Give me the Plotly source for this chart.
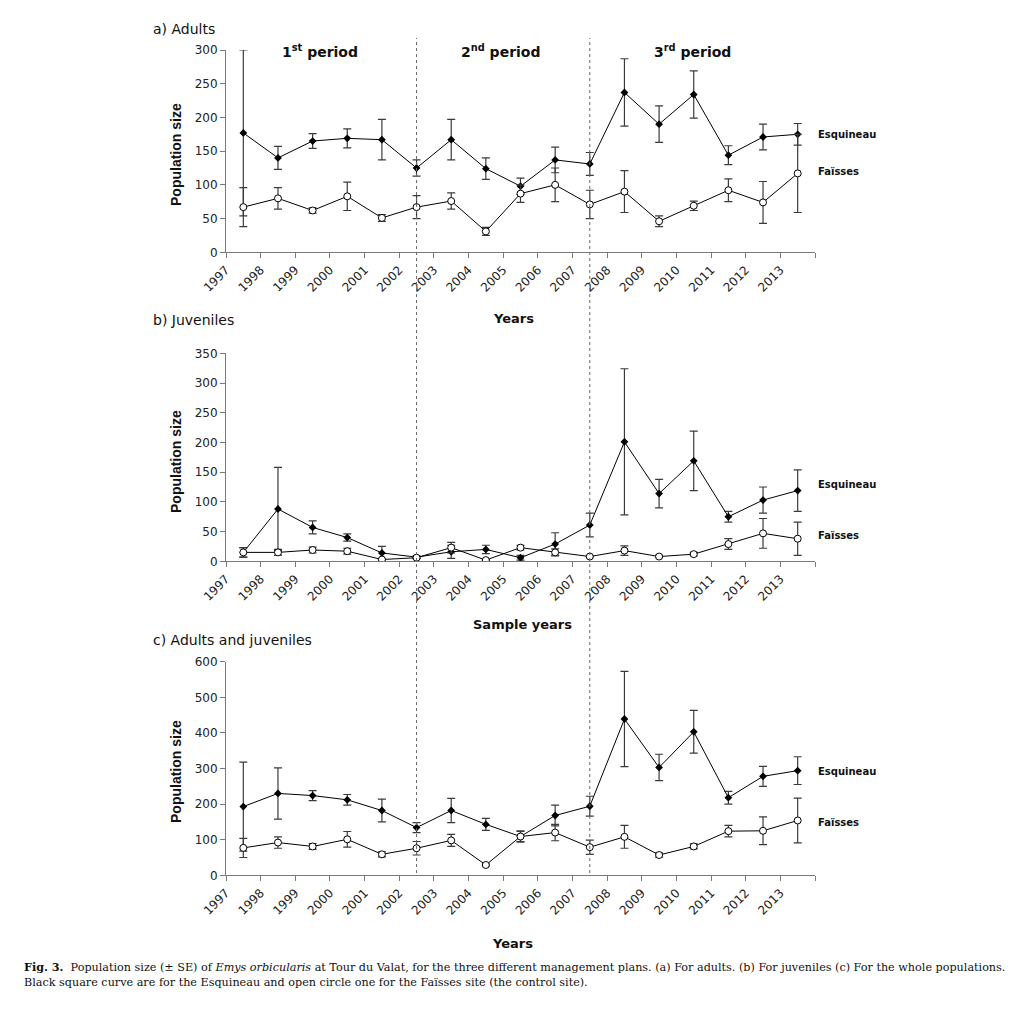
import plotly.graph_objects as go

# ---------------- data ----------------
years = [1997, 1998, 1999, 2000, 2001, 2002, 2003, 2004, 2005,
         2006, 2007, 2008, 2009, 2010, 2011, 2012, 2013]
year_labels = [str(y) for y in years]
period_bounds = [2002, 2007]

adults_esq = [177, 140, 165, 169, 167, 125, 167, 124, 98, 137, 131, 237, 190, 234, 144, 171, 175]
adults_esq_se = [123, 17, 11, 14, 30, 12, 30, 16, 12, 19, 17, 50, 27, 35, 14, 19, 16]
adults_fai = [67, 80, 62, 83, 51, 67, 76, 31, 87, 100, 71, 90, 46, 69, 92, 74, 117]
adults_fai_se = [29, 16, 4, 21, 5, 17, 12, 6, 13, 25, 21, 31, 8, 7, 17, 31, 58]

juv_esq = [15, 88, 57, 40, 14, 7, 16, 20, 6, 29, 61, 201, 114, 169, 75, 103, 119]
juv_esq_se = [8, 70, 11, 6, 11, 2, 11, 7, 4, 19, 20, 123, 24, 50, 9, 22, 35]
juv_fai = [15, 15, 19, 17, 3, 6, 23, 2, 23, 15, 8, 18, 8, 12, 29, 47, 38]
juv_fai_se = [8, 5, 5, 5, 1, 2, 9, 1, 4, 6, 1, 8, 2, 3, 9, 25, 28]

all_esq = [193, 230, 224, 212, 182, 134, 182, 143, 109, 168, 194, 439, 303, 403, 218, 278, 294]
all_esq_se = [125, 72, 14, 15, 32, 14, 34, 17, 16, 29, 28, 134, 37, 60, 18, 28, 39]
all_fai = [77, 92, 81, 101, 59, 76, 98, 29, 109, 120, 79, 108, 57, 81, 124, 125, 154]
all_fai_se = [27, 16, 8, 22, 7, 19, 17, 3, 14, 23, 20, 32, 6, 7, 16, 39, 63]

panels = [
    dict(esq=adults_esq, esq_se=adults_esq_se, fai=adults_fai, fai_se=adults_fai_se,
         ymax=300, dtick=50, top=50.0, bottom=252.3, title="a) Adults", title_y=29,
         xtitle="Years", xtitle_x=513, xtitle_y=318, ytitle_y=155,
         esq_lab_y=134, fai_lab_y=172),
    dict(esq=juv_esq, esq_se=juv_esq_se, fai=juv_fai, fai_se=juv_fai_se,
         ymax=350, dtick=50, top=353.3, bottom=561.3, title="b) Juveniles", title_y=320,
         xtitle="Sample years", xtitle_x=522, xtitle_y=624, ytitle_y=462,
         esq_lab_y=485, fai_lab_y=535),
    dict(esq=all_esq, esq_se=all_esq_se, fai=all_fai, fai_se=all_fai_se,
         ymax=600, dtick=100, top=661.7, bottom=875.3, title="c) Adults and juveniles", title_y=640,
         xtitle="Years", xtitle_x=512, xtitle_y=943, ytitle_y=772,
         esq_lab_y=771, fai_lab_y=822),
]

# ---------------- layout helpers ----------------
W, H = 1036, 1013
X_LEFT, X_RIGHT = 226, 815


def px(xp):
    return xp / W


def py(yp):
    return 1 - yp / H


FONT = "DejaVu Sans, Liberation Sans, Arial, sans-serif"
AXCOL = "#7a7a7a"
ERRCOL = "#3a3a3a"

fig = go.Figure()
annotations = []
shapes = []

# category boundaries carry the tick marks; labels sit at the left boundary of each year
tickvals = [y - 0.5 for y in years]
end_tick = [years[-1] + 0.5]

for i, p in enumerate(panels):
    n = "" if i == 0 else str(i + 1)
    xa, ya = "x" + n, "y" + n

    fig.add_trace(go.Scatter(
        x=years, y=p["esq"], mode="lines+markers", xaxis=xa, yaxis=ya,
        line=dict(color="black", width=1),
        marker=dict(symbol="diamond", size=6, color="black"),
        error_y=dict(type="data", array=p["esq_se"], visible=True,
                     color=ERRCOL, thickness=1.2, width=4),
        showlegend=False, name="Esquineau"))
    fig.add_trace(go.Scatter(
        x=years, y=p["fai"], mode="lines+markers", xaxis=xa, yaxis=ya,
        line=dict(color="black", width=1),
        marker=dict(symbol="circle", size=7, color="white",
                    line=dict(color="black", width=1)),
        error_y=dict(type="data", array=p["fai_se"], visible=True,
                     color=ERRCOL, thickness=1.2, width=4),
        showlegend=False, name="Faïsses"))

    fig.update_layout(**{
        ("xaxis" + n): dict(
            domain=[px(X_LEFT), px(X_RIGHT)], range=[years[0] - 0.5, years[-1] + 0.5],
            anchor=ya, tickmode="array", tickvals=tickvals, ticktext=year_labels,
            tickangle=-45, ticks="outside", ticklen=5, tickcolor=AXCOL,
            minor=dict(tickmode="array", tickvals=end_tick, ticks="outside",
                       ticklen=5, tickcolor=AXCOL, showgrid=False),
            showline=True, linecolor=AXCOL, linewidth=1, automargin=False,
            showgrid=False, zeroline=False, fixedrange=True,
            tickfont=dict(family=FONT, size=12, color="#222")),
        ("yaxis" + n): dict(
            domain=[py(p["bottom"]), py(p["top"])], range=[0, p["ymax"]],
            anchor=xa, dtick=p["dtick"], tick0=0, ticks="outside", ticklen=5,
            tickcolor=AXCOL, showline=True, linecolor=AXCOL, linewidth=1,
            showgrid=False, zeroline=False, automargin=False, fixedrange=True,
            tickfont=dict(family=FONT, size=12, color="#222")),
    })

    annotations += [
        dict(text=p["title"], x=px(151), y=py(p["title_y"]), xref="paper", yref="paper",
             xanchor="left", yanchor="middle", showarrow=False,
             font=dict(family=FONT, size=14, color="#111")),
        dict(text="<b>Population size</b>", x=px(176), y=py(p["ytitle_y"]),
             xref="paper", yref="paper", textangle=-90, xanchor="center", yanchor="middle",
             showarrow=False, font=dict(family="Liberation Sans, Arial, sans-serif", size=14, color="#111")),
        dict(text="<b>" + p["xtitle"] + "</b>", x=px(p["xtitle_x"]), y=py(p["xtitle_y"]),
             xref="paper", yref="paper", xanchor="center", yanchor="middle", showarrow=False,
             font=dict(family=FONT, size=13, color="#111")),
        dict(text="<b>Esquineau</b>", x=px(816), y=py(p["esq_lab_y"]), xref="paper", yref="paper",
             xanchor="left", yanchor="middle", showarrow=False,
             font=dict(family=FONT, size=10, color="#111")),
        dict(text="<b>Faïsses</b>", x=px(816), y=py(p["fai_lab_y"]), xref="paper", yref="paper",
             xanchor="left", yanchor="middle", showarrow=False,
             font=dict(family=FONT, size=10, color="#111")),
    ]

# period separators spanning all three panels
for b in period_bounds:
    shapes.append(dict(type="line", xref="x", yref="paper", x0=b, x1=b,
                       y0=py(873), y1=py(38),
                       line=dict(color="#666", width=1, dash="dot")))

# period labels
for txt, xc in [("1<sup>st</sup> period", 320), ("2<sup>nd</sup> period", 500),
                ("3<sup>rd</sup> period", 692)]:
    annotations.append(dict(text="<b>" + txt + "</b>", x=px(xc), y=py(51), xref="paper",
                            yref="paper", xanchor="center", yanchor="middle", showarrow=False,
                            font=dict(family=FONT, size=14, color="#111")))

# caption
CAPFONT = "DejaVu Serif, Liberation Serif, serif"
annotations += [
    dict(text="<b>Fig. 3.</b>  Population size (± SE) of <i>Emys orbicularis</i> at Tour du Valat, "
              "for the three different management plans. (a) For adults. (b) For juveniles (c) For "
              "the whole populations.",
         x=px(22), y=py(967), xref="paper", yref="paper", xanchor="left", yanchor="middle",
         showarrow=False, font=dict(family=CAPFONT, size=11.2, color="#111")),
    dict(text="Black square curve are for the Esquineau and open circle one for the Faïsses site "
              "(the control site).",
         x=px(22), y=py(982), xref="paper", yref="paper", xanchor="left", yanchor="middle",
         showarrow=False, font=dict(family=CAPFONT, size=11.2, color="#111")),
]

fig.update_layout(
    width=W, height=H, margin=dict(l=0, r=0, t=0, b=0, pad=0), autosize=False,
    paper_bgcolor="white", plot_bgcolor="white",
    annotations=annotations, shapes=shapes, showlegend=False,
)

fig.write_html("out.html", config={"displayModeBar": False},
               post_script="document.body.style.margin='0';document.body.style.overflow='hidden';")
